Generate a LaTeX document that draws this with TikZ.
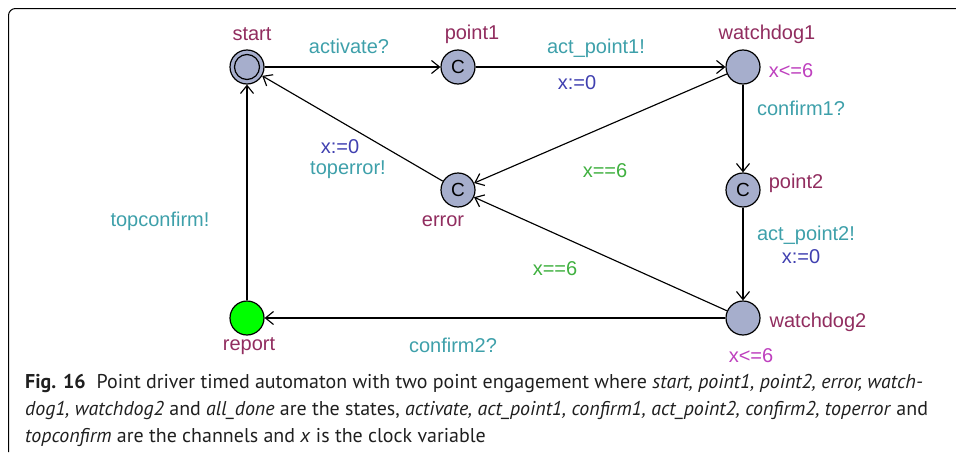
\documentclass[tikz,border=0pt]{standalone}
\usepackage{fontspec}
\setmainfont{Liberation Sans}
\newfontfamily\capfont{PT Sans}
\usetikzlibrary{arrows.meta}

\definecolor{namecol}{RGB}{145,45,95}
\definecolor{synccol}{RGB}{62,160,170}
\definecolor{assigncol}{RGB}{64,64,176}
\definecolor{guardcol}{RGB}{64,176,64}
\definecolor{invcol}{RGB}{190,64,190}
\definecolor{locfill}{RGB}{166,174,204}
\definecolor{urgentgreen}{RGB}{0,255,0}

\tikzset{
  loc/.style={circle, draw=black, line width=1.2pt, fill=locfill, minimum size=34pt, inner sep=0pt,
              font=\fontsize{19}{19}\selectfont},
  lbl/.style={anchor=base, inner sep=0pt, font=\fontsize{20}{24}\selectfont},
  lname/.style={lbl, text=namecol},
  lsync/.style={lbl, text=synccol},
  lassign/.style={lbl, text=assigncol},
  lguard/.style={lbl, text=guardcol},
  linv/.style={lbl, text=invcol},
  trans/.style={line width=1.15pt, -{Straight Barb[length=8pt,width=13pt,line width=1.15pt]}},
  capline/.style={anchor=base west, inner sep=0pt, font=\capfont\fontsize{19.95}{22}\selectfont, text=black!88}
}

\begin{document}
\begin{tikzpicture}[x=1pt,y=-1pt]
\useasboundingbox (0,0) rectangle (956,455);

% frame
\draw[line width=1pt, rounded corners=7pt] (8.5,452) |- (960,8.5);

% locations
\node[loc] (start) at (247,67) {};
\draw[line width=1.2pt] (start.center) circle[radius=12.5pt];
\node[loc] (point1) at (458,67) {C};
\node[loc] (watchdog1) at (743,67) {};
\node[loc] (error) at (458,190) {C};
\node[loc] (point2) at (743,190) {C};
\node[loc] (watchdog2) at (743,318) {};
\node[loc, fill=urgentgreen] (report) at (247,318) {};

% location names and invariants
\node[lname] (nstart) at (252,40) {start};
\node[lname] (npoint1) at (472,39) {point1};
\node[lname] (nwd1) at (767,39) {watchdog1};
\node[linv] (iwd1) at (791,77) {x<=6};
\node[lname] (npoint2) at (796,188) {point2};
\node[lname] (nwd2) at (818,327) {watchdog2};
\node[linv] (iwd2) at (751,362) {x<=6};
\node[lname] (nreport) at (249,350) {report};
\node[lname] (nerror) at (443,226) {error};

% transitions
\draw[trans] (start) -- (point1);
\draw[trans] (point1) -- (watchdog1);
\draw[trans] (watchdog1) -- (point2);
\draw[trans] (point2) -- (watchdog2);
\draw[trans] (watchdog1) -- (error);
\draw[trans] (watchdog2) -- (error);
\draw[trans] (watchdog2) -- (report);
\draw[trans] (report) -- (start);
\draw[trans] (error) -- (start);

% transition labels
\node[lsync] (sactivate) at (349,53) {activate?};
\node[lsync] (sact1) at (596,53) {act\_point1!};
\node[lassign] (a1) at (577,89) {x:=0};
\node[lsync] (sconf1) at (801,115) {confirm1?};
\node[lguard] (g1) at (605,177) {x==6};
\node[lsync] (sact2) at (806,240) {act\_point2!};
\node[lassign] (a2) at (801,263) {x:=0};
\node[lguard] (g2) at (555,275) {x==6};
\node[lsync] (sconf2) at (453,352) {confirm2?};
\node[lassign] (a3) at (340,153) {x:=0};
\node[lsync] (stoperr) at (348,174) {toperror!};
\node[lsync] (stopconf) at (160,226) {topconfirm!};

% caption
\node[capline] (cap1) at (25,388) {\textbf{Fig. 16}\hspace{0.55em}Point driver timed automaton with two point engagement where \textit{start, point1, point2, error, watch-}};
\node[capline] (cap2) at (25,415) {\textit{dog1, watchdog2} and \textit{all\_done} are the states, \textit{activate, act\_point1, confirm1, act\_point2, confirm2, toperror} and};
\node[capline] (cap3) at (25,442) {\textit{topconfirm} are the channels and \textit{x} is the clock variable};
\end{tikzpicture}
\end{document}
